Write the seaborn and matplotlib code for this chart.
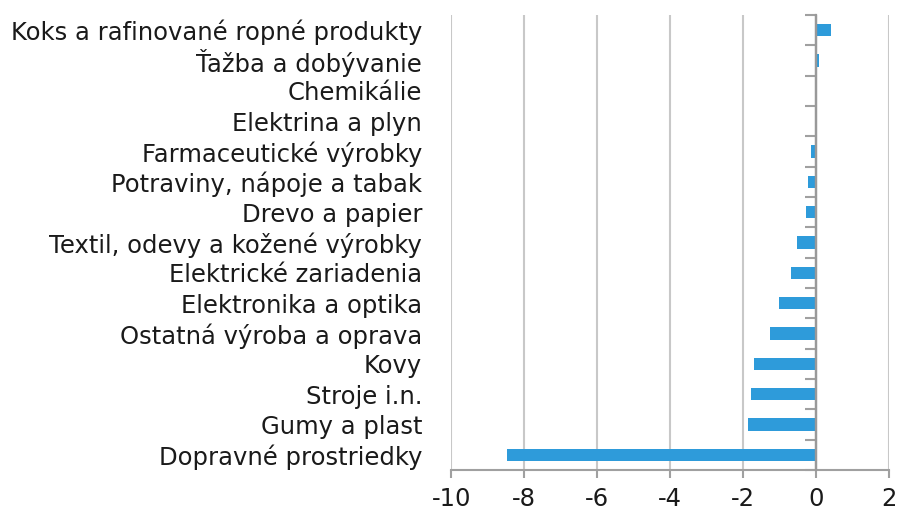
import matplotlib
matplotlib.use("Agg")
import matplotlib.pyplot as plt
from matplotlib.ticker import FixedLocator
import seaborn as sns
import pandas as pd

# values
categories = [
    "Koks a rafinované ropné produkty",
    "Ťažba a dobývanie",
    "Chemikálie",
    "Elektrina a plyn",
    "Farmaceutické výrobky",
    "Potraviny, nápoje a tabak",
    "Drevo a papier",
    "Textil, odevy a kožené výrobky",
    "Elektrické zariadenia",
    "Elektronika a optika",
    "Ostatná výroba a oprava",
    "Kovy",
    "Stroje i.n.",
    "Gumy a plast",
    "Dopravné prostriedky",
]
values = [0.41, 0.09, 0.0, 0.0, -0.15, -0.23, -0.29, -0.53, -0.70, -1.03, -1.27, -1.71, -1.79, -1.88, -8.48]
x_ticks = [-10, -8, -6, -4, -2, 0, 2]

df = pd.DataFrame({"odvetvie": categories, "zmena": values})

sns.set_style("white")
plt.rcParams["font.family"] = ["DejaVu Sans"]
plt.rcParams["axes.unicode_minus"] = False
plt.rcParams["patch.force_edgecolor"] = False

W, H = 8.99, 5.09
left, right = 0.502, 0.989
fig, ax = plt.subplots(figsize=(W, H), dpi=100)
fig.subplots_adjust(left=left, right=right, top=0.9705, bottom=0.0766)

sns.barplot(data=df, x="zmena", y="odvetvie", orient="h", color="#2E9BDA",
            saturation=1, width=0.4, linewidth=0, errorbar=None, ax=ax, zorder=3)

xmin, xmax = x_ticks[0], x_ticks[-1]
ax.set_xlim(xmin, xmax)
ax.set_ylim(len(categories) - 0.5, -0.5)
ax.set_xticks(x_ticks)
ax.set_xticklabels([str(t) for t in x_ticks])
ax.set_xlabel("")
ax.set_ylabel("")

ax.grid(axis="x", color="#c8c8c8", lw=1.5)
ax.set_axisbelow(True)
for s in ["top", "right"]:
    ax.spines[s].set_visible(False)
ax.spines["bottom"].set_color("#a0a0a0")
ax.spines["bottom"].set_linewidth(1.5)

# left spine sits on zero, minor ticks separate the categories
ax.spines["left"].set_position(("data", 0))
ax.spines["left"].set_color("#999999")
ax.spines["left"].set_linewidth(1.6)
ax.spines["left"].set_zorder(10)
ax.yaxis.set_minor_locator(FixedLocator([i - 0.5 for i in range(len(categories) + 1)]))
ax.axvline(0, color="#999999", lw=1.6, zorder=10)

# push the category labels back out to the left edge of the axes
axes_w_pt = (right - left) * W * 72
zero_frac = (0 - xmin) / (xmax - xmin)
label_pad = axes_w_pt * zero_frac + 21

ax.tick_params(axis="x", length=6, width=1.5, color="#a0a0a0", labelsize=17.5,
               labelcolor="#1a1a1a", pad=6, bottom=True)
ax.tick_params(axis="y", which="major", length=0, labelsize=17.5,
               labelcolor="#1a1a1a", pad=label_pad)
ax.tick_params(axis="y", which="minor", length=8, width=1.5, color="#a0a0a0",
               direction="out", left=True)

fig.savefig("out.png", dpi=100)
